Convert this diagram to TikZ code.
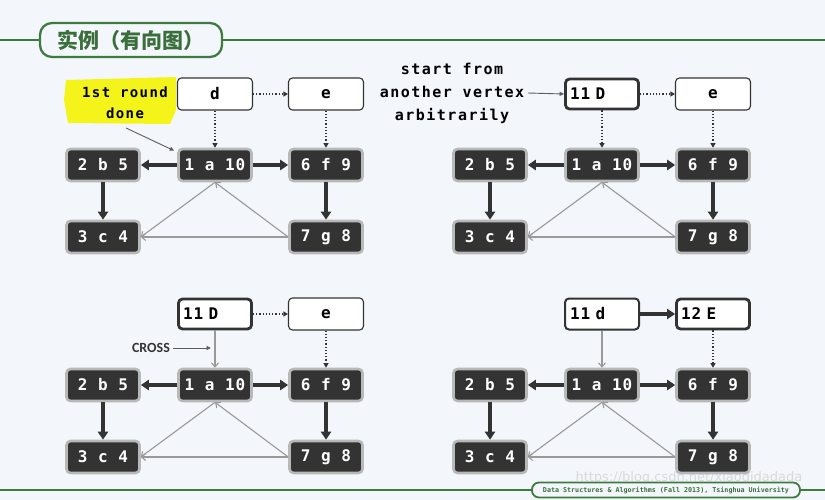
\documentclass[tikz,border=0pt]{standalone}
\usepackage{fontspec}
\setmainfont{DejaVu Sans Mono}
\newfontfamily\cjkfont{Noto Sans CJK SC}
\newfontfamily\monob[LetterSpace=6]{DejaVu Sans Mono}
\newfontfamily\monon[LetterSpace=10]{DejaVu Sans Mono}
\newfontfamily\monof{DejaVu Sans Mono}
\newfontfamily\crossfont{Carlito}
\usetikzlibrary{arrows.meta}
\definecolor{bgc}{HTML}{F3F7FB}
\definecolor{dgreen}{HTML}{3F7A3F}
\definecolor{tgreen}{HTML}{3A6E3A}
\definecolor{darkbox}{HTML}{333333}
\definecolor{halo}{HTML}{B8B8B8}
\definecolor{thinline}{HTML}{999999}
\definecolor{hl}{HTML}{F4F41A}
\tikzset{
  darknode/.style={fill=darkbox, draw=halo, line width=2.6pt, rounded corners=4pt,
    minimum width=73pt, minimum height=32pt, inner sep=0pt,
    text=white, font=\monob\bfseries\fontsize{16}{18}\selectfont},
  whitenode/.style={fill=white, draw=darkbox, line width=1.1pt, rounded corners=4pt,
    minimum width=75pt, minimum height=32pt, inner sep=0pt,
    text=black, font=\monob\bfseries\fontsize{16}{18}\selectfont},
  boldwhite/.style={whitenode, line width=2.8pt, minimum width=73pt, minimum height=30pt},
  midwhite/.style={whitenode, line width=2pt, minimum width=74pt, minimum height=31pt},
  leftlab/.style={text width=64pt, align=left},
  thickarr/.style={draw=darkbox, line width=3.3pt, -{Triangle[length=8pt,width=10pt]}},
  grayarr/.style={draw=thinline, line width=1.1pt, -{Straight Barb[length=4pt,width=7pt]}},
  dotarr/.style={draw=darkbox, line width=1.2pt, dotted, -{Triangle[length=4.5pt,width=5pt]}},
  notearr/.style={draw=darkbox!80, line width=0.9pt, -{Triangle[length=4.5pt,width=4pt]}},
  notetext/.style={font=\monon\bfseries\fontsize{15}{23}\selectfont, align=center, text=black},
}
\newcommand{\basegraph}[1]{%
  \node[darknode] (#1a) at (215,165) {1 a 10};
  \node[darknode] (#1b) at (103,165) {2 b 5};
  \node[darknode] (#1f) at (326,165) {6 f 9};
  \node[darknode] (#1c) at (103,237) {3 c 4};
  \node[darknode] (#1g) at (326,237) {7 g 8};
  \draw[thickarr] (#1a.west) -- (#1b.east);
  \draw[thickarr] (#1a.east) -- (#1f.west);
  \draw[thickarr] (#1b.south) -- (#1c.north);
  \draw[thickarr] (#1f.south) -- (#1g.north);
  \draw[grayarr] (#1g.west) -- (#1a.south);
  \draw[grayarr] (#1a.south) -- (#1c.east);
  \draw[grayarr] (#1g.west) -- (#1c.east);
}
\begin{document}
\begin{tikzpicture}[x=1pt,y=-1pt]
\fill[bgc] (0,0) rectangle (825,500);
\useasboundingbox (0,0) rectangle (825,500);
% header
\draw[dgreen, line width=2pt] (0,40) -- (825,40);
\node[draw=dgreen, line width=2.3pt, fill=bgc, rounded corners=12pt,
  minimum width=182pt, minimum height=34pt, inner sep=0pt,
  text=tgreen, font=\cjkfont\bfseries\fontsize{21}{24}\selectfont] (title) at (131,40) {实例（有向图）};
% footer
\draw[dgreen, line width=1.8pt] (0,490) -- (825,490);
\node[text=gray!30, font=\fontspec{DejaVu Sans}\fontsize{13}{14}\selectfont, anchor=west] (wm) at (572,478) {https://blog.csdn.net/xiaodidadada};
\node[draw=dgreen, line width=1.8pt, fill=bgc, rounded corners=7pt,
  minimum width=268pt, minimum height=15pt, inner sep=0pt,
  text=tgreen, font=\monof\bfseries\fontsize{6.7}{7}\selectfont] (foot) at (666,490) {Data Structures \& Algorithms (Fall 2013), Tsinghua University};

% ---------- panel 1 ----------
\begin{scope}
  \basegraph{p}
  \node[whitenode] (pd) at (215,94) {d};
  \node[whitenode] (pe) at (326,94) {e};
  \draw[dotarr] (pd.east) -- (pe.west);
  \draw[dotarr] (pd.south) -- (pa.north);
  \draw[dotarr] (pe.south) -- (pf.north);
  \fill[hl] (66,80) -- (176,77) -- (176,110) -- (170,124) -- (68,123) -- (64,100) -- cycle;
  \node[notetext, font=\monon\bfseries\fontsize{14}{21}\selectfont] (note1) at (125,103) {1st round\\done};
  \coordinate (n1s) at (126,128);
  \draw[notearr] (n1s) -- ([xshift=-3pt,yshift=-3pt]pa.north west);
\end{scope}

% ---------- panel 2 ----------
\begin{scope}[shift={(387,0)}]
  \basegraph{q}
  \node[boldwhite, leftlab] (qd) at (215,94) {11 D};
  \node[whitenode] (qe) at (326,94) {e};
  \draw[dotarr] (qd.east) -- (qe.west);
  \draw[dotarr] (qd.south) -- (qa.north);
  \draw[dotarr] (qe.south) -- (qf.north);
\end{scope}
\node[notetext] (note2) at (452,93) {start from\\another vertex\\arbitrarily};
\draw[notearr] (note2.east) -- (qd.west);

% ---------- panel 3 ----------
\begin{scope}[shift={(0,220)}]
  \basegraph{r}
  \node[boldwhite, leftlab] (rd) at (215,94) {11 D};
  \node[whitenode] (re) at (326,94) {e};
  \draw[dotarr] (rd.east) -- (re.west);
  \draw[grayarr] (rd.south) -- (ra.north);
  \draw[dotarr] (re.south) -- (rf.north);
  \node[font=\crossfont\bfseries\fontsize{14}{16}\selectfont, text=darkbox] (cross) at (151,128) {CROSS};
  \coordinate (crossend) at (211,128);
  \draw[notearr] (cross.east) -- (crossend);
\end{scope}

% ---------- panel 4 ----------
\begin{scope}[shift={(387,220)}]
  \basegraph{s}
  \node[midwhite, leftlab] (sd) at (215,94) {11 d};
  \node[boldwhite, leftlab] (se) at (326,94) {12 E};
  \draw[thickarr] (sd.east) -- (se.west);
  \draw[grayarr] (sd.south) -- (sa.north);
  \draw[dotarr] (se.south) -- (sf.north);
\end{scope}
\end{tikzpicture}
\end{document}
